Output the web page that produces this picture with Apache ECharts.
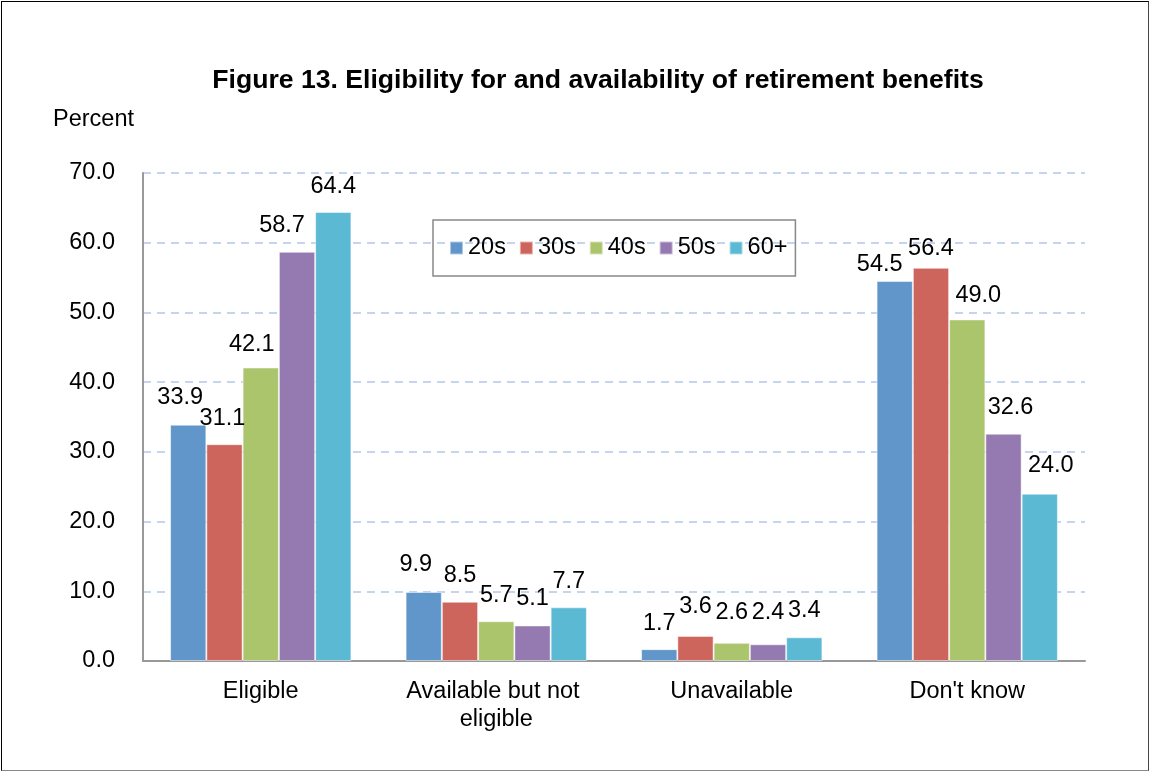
<!DOCTYPE html>
<html><head><meta charset="utf-8">
<script src="https://cdn.jsdelivr.net/npm/echarts@6/dist/echarts.min.js"></script>
<style>
html,body{margin:0;padding:0;background:#fff;}
#frame{position:absolute;left:1px;top:1px;width:1148px;height:770px;border:1px solid #000;border-bottom-color:#888;border-right-color:#444;box-sizing:border-box;}
#c{position:absolute;left:0;top:0;width:1151px;height:774px;}
</style></head>
<body>
<div id="frame"></div>
<div id="c"></div>
<script>
const categories = ["Eligible", "Available but not eligible", "Unavailable", "Don't know"];
const seriesNames = ["20s", "30s", "40s", "50s", "60+"];
const v20s = [33.9, 9.9, 1.7, 54.5];
const v30s = [31.1, 8.5, 3.6, 56.4];
const v40s = [42.1, 5.7, 2.6, 49.0];
const v50s = [58.7, 5.1, 2.4, 32.6];
const v60p = [64.4, 7.7, 3.4, 24.0];
const colors = ["#6096CA", "#CE655D", "#ABC56C", "#9579B1", "#5BB9D3"];
const allValues = [v20s, v30s, v40s, v50s, v60p];
// small label nudges (px) as placed in the original figure, per series per category
const labelNudgeX = [[-8, -8, 0, -15], [-2, 0, 0, 0], [-9, 0, 0, 11], [-15, 0, 0, 7], [0, 0, 0, 11]];
const labelNudgeY = [[-1, -1, 0, 9], [0, 0, -3, 7], [3, 0, -4, 2], [0, -1, -6, 0], [0, 0, -1, -2]];

const font = "'Liberation Sans', Arial, sans-serif";
const fs = 23.5;
const chart = echarts.init(document.getElementById('c'), null, {renderer: 'canvas'});
chart.setOption({
  animation: false,
  backgroundColor: 'transparent',
  title: {
    text: 'Figure 13. Eligibility for and availability of retirement benefits',
    left: 593, top: 62, textAlign: 'center',
    textStyle: {fontFamily: font, fontSize: 26.6, fontWeight: 'bold', color: '#000'}
  },
  graphic: [{
    type: 'text', left: 53, top: 108,
    style: {text: 'Percent', fontFamily: font, fontSize: fs, fill: '#000'}
  }],
  legend: {
    data: seriesNames,
    left: 433, top: 220,
    padding: [16, 8, 16, 16],
    borderColor: '#888', borderWidth: 1.5,
    itemWidth: 13, itemHeight: 13, itemGap: 13,
    icon: 'rect',
    textStyle: {fontFamily: font, fontSize: fs, color: '#000'}
  },
  grid: {left: 143, right: 66, top: 173, bottom: 113, containLabel: false},
  xAxis: {
    type: 'category', data: categories,
    axisLine: {lineStyle: {color: '#999', width: 2}},
    axisTick: {show: false},
    axisLabel: {interval: 0, fontFamily: font, fontSize: fs, color: '#000', margin: 17, width: 220, overflow: 'break', lineHeight: 28}
  },
  yAxis: {
    type: 'value', min: 0, max: 70, interval: 10,
    axisLine: {show: true, lineStyle: {color: '#999', width: 2}},
    axisTick: {show: false},
    axisLabel: {fontFamily: font, fontSize: fs, color: '#000', margin: 28, formatter: v => v.toFixed(1)},
    splitLine: {lineStyle: {color: '#B4C8EA', width: 1.5, type: [8, 6]}}
  },
  series: seriesNames.map((name, i) => ({
    name: name, type: 'bar',
    data: allValues[i].map((v, j) => ({value: v, label: {offset: [labelNudgeX[i][j], labelNudgeY[i][j]]}})),
    barGap: '0%', barCategoryGap: '23%',
    itemStyle: {color: colors[i], borderColor: 'rgba(255,255,255,0.5)', borderWidth: 1},
    label: {show: true, position: 'top', distance: 14, fontFamily: font, fontSize: fs, color: '#000',
      formatter: p => p.value.toFixed(1)}
  }))
});
</script>
</body></html>
